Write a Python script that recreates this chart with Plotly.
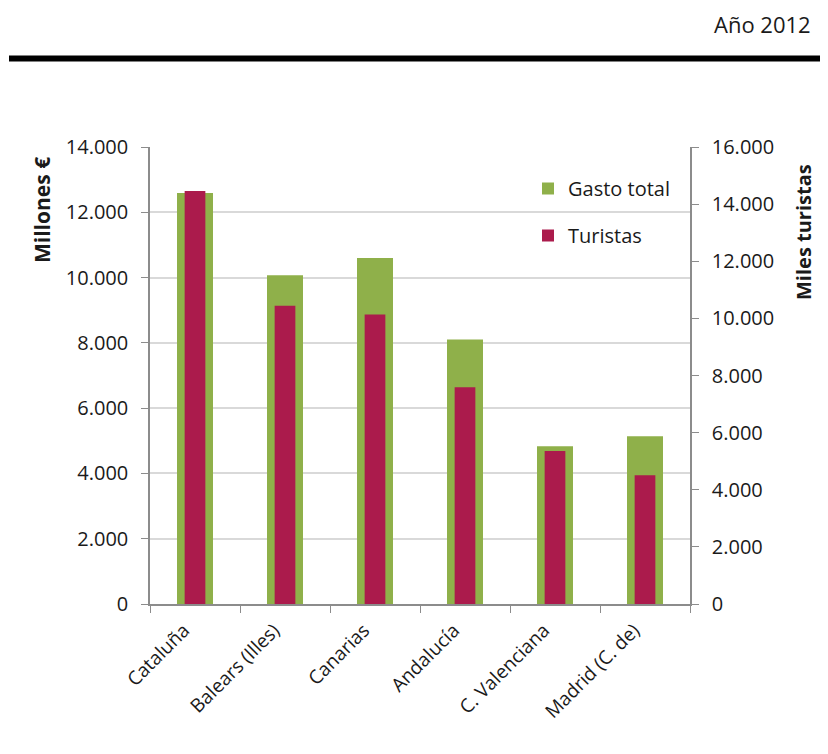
import plotly.graph_objects as go

categories = ["Cataluña", "Balears (Illes)", "Canarias", "Andalucía", "C. Valenciana", "Madrid (C. de)"]
gasto_total = [12590, 10070, 10600, 8100, 4830, 5140]      # Millones €
turistas = [14460, 10440, 10140, 7590, 5360, 4510]          # Miles turistas

GREEN = "#8fb04a"
RED = "#ab1b4c"
FONT = "Open Sans"
TXT = "#1a1a1a"

fig = go.Figure()
fig.add_trace(go.Bar(x=categories, y=gasto_total, name="Gasto total", marker_color=GREEN,
                     width=0.4, yaxis="y", legendgroup="g", marker_line_width=0))
fig.add_trace(go.Bar(x=categories, y=turistas, name="Turistas", marker_color=RED,
                     width=0.23, yaxis="y2", legendgroup="t", marker_line_width=0))

OFF = 8  # default page body margin
W, H = 828 - OFF, 754 - OFF
# target plot area in screenshot pixels
PL, PR, PT, PB = 150, 690, 147, 604
L, R, T, B = PL - OFF, W - (PR - OFF), PT - OFF, H - (PB - OFF)
pw, ph = PR - PL, PB - PT

def px(x):
    return (x - PL) / pw

def py(y):
    return (PB - y) / ph

fig.update_layout(
    width=W, height=H,
    margin=dict(l=L, r=R, t=T, b=B),
    paper_bgcolor="white", plot_bgcolor="white",
    barmode="overlay",
    separators=",.",
    font=dict(family=FONT, size=20, color=TXT),
    showlegend=True,
    legend=dict(x=px(528), y=py(169), xanchor="left", yanchor="top",
                font=dict(size=20, color=TXT), tracegroupgap=18,
                bgcolor="rgba(0,0,0,0)"),
    xaxis=dict(showline=True, linecolor="#8c8c8c", linewidth=1.5,
               ticks="outside", tickson="boundaries", ticklen=7, tickcolor="#8c8c8c",
               tickangle=-45, tickfont=dict(size=19, color=TXT),
               ticklabelshift=-11, ticklabelstandoff=6),
    yaxis=dict(range=[0, 14000], dtick=2000, tickformat=",d",
               showline=True, linecolor="#8c8c8c", linewidth=1.5,
               ticks="outside", ticklen=7, tickcolor="#8c8c8c",
               showgrid=True, gridcolor="#d9d9d9", gridwidth=1.5,
               zeroline=False, tickfont=dict(size=20, color=TXT), ticklabelstandoff=9),
    yaxis2=dict(range=[0, 16000], dtick=2000, tickformat=",d", overlaying="y", side="right",
                showline=True, linecolor="#8c8c8c", linewidth=1.5,
                ticks="outside", ticklen=7, tickcolor="#8c8c8c",
                showgrid=False, zeroline=False, tickfont=dict(size=20, color=TXT), ticklabelstandoff=9),
)

fig.add_annotation(text="<b>Millones €</b>", xref="paper", yref="paper", x=px(42), y=py(210),
                   textangle=-90, showarrow=False, xanchor="center", yanchor="middle",
                   font=dict(size=21, color=TXT))
fig.add_annotation(text="<b>Miles turistas</b>", xref="paper", yref="paper", x=px(803), y=py(232),
                   textangle=-90, showarrow=False, xanchor="center", yanchor="middle",
                   font=dict(size=20, color=TXT))
fig.add_annotation(text="Año 2012", xref="paper", yref="paper", x=px(813), y=py(24),
                   showarrow=False, xanchor="right", yanchor="middle",
                   font=dict(size=22, color=TXT, family=FONT))
fig.add_shape(type="line", xref="paper", yref="paper", x0=px(9), x1=px(828), y0=py(58.5), y1=py(58.5),
              line=dict(color="black", width=6))

fig.write_html("out.html")
